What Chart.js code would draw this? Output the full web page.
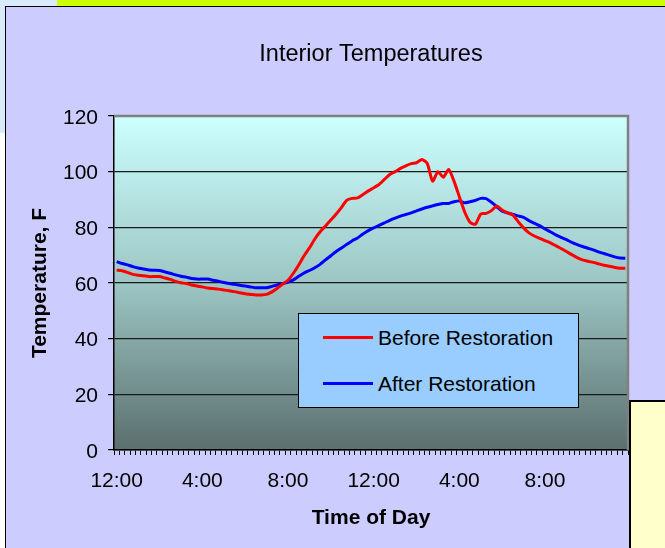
<!DOCTYPE html>
<html>
<head>
<meta charset="utf-8">
<title>Interior Temperatures</title>
<script src="https://cdn.jsdelivr.net/npm/chart.js@4.4.1/dist/chart.umd.min.js"></script>
<style>
  html, body { margin: 0; padding: 0; }
  body {
    width: 665px; height: 548px; position: relative; overflow: hidden;
    background: #ffffff; font-family: 'Liberation Sans', Arial, sans-serif;
  }
  .corner { position: absolute; left: 0; top: 0; width: 57px; height: 133px; background: #D9EBFB; }
  .band { position: absolute; left: 57px; top: 0; width: 608px; height: 6px; background: #CCFF00; }
  .frame {
    position: absolute; left: 5px; top: 6px; width: 700px; height: 600px;
    border: 1px solid #000; background: #CCCCFF;
  }
  #chartWrap { position: absolute; left: 6px; top: 7px; width: 659px; height: 541px; }
  .note {
    position: absolute; left: 629px; top: 400px; width: 60px; height: 200px;
    border: 2px solid #000; background: #FFFFCC;
  }
  #legend {
    position: absolute; left: 298px; top: 313px; width: 279px; height: 93px;
    border: 1px solid #000; background: #99CCFF;
  }
  #legend .item { position: absolute; left: 0; height: 24px; width: 279px; }
  #legend .swatch { position: absolute; left: 24px; top: 10px; width: 50px; height: 3px; }
  #legend .label {
    position: absolute; left: 79px; top: 0; line-height: 24px;
    font-size: 21px; color: #000; white-space: nowrap;
  }
</style>
</head>
<body>
<div class="corner"></div>
<div class="band"></div>
<div class="frame"></div>
<div id="chartWrap"><canvas id="tempChart" width="659" height="541"></canvas></div>
<div id="legend"></div>
<div class="note"></div>

<script>
// Time of day, every 15 minutes, 12-hour clock
const times = [];
for (let h = 0; h < 24; h++) {
  for (let m = 0; m < 60; m += 15) {
    const hr = h % 12 === 0 ? 12 : h % 12;
    times.push(hr + ':' + String(m).padStart(2, '0'));
  }
}
const labelEvery = 16; // one label every 4 hours

// Temperatures, F
const beforeTemps = [
  64.6, 64.4, 63.8, 63.1, 62.8, 62.6, 62.3, 62.3, 62.3, 61.8,
  61.3, 60.6, 60.1, 59.8, 59.3, 58.9, 58.6, 58.2, 58.0, 57.8,
  57.5, 57.2, 56.9, 56.5, 56.1, 55.9, 55.7, 55.7, 55.9, 56.8,
  58.1, 59.6, 61.0, 63.5, 66.5, 69.8, 72.6, 75.8, 78.4, 80.5,
  82.6, 84.8, 87.2, 89.8, 90.4, 90.6, 91.8, 93.1, 94.2, 95.4,
  97.2, 99.0, 100.0, 101.2, 102.1, 102.9, 103.2, 104.4, 103.0, 96.6,
  100.0, 98.0, 100.8, 96.6, 91.0, 85.5, 81.8, 81.1, 84.8, 85.0,
  86.0, 87.7, 86.2, 85.2, 84.4, 82.0, 79.8, 78.0, 76.9, 76.0,
  75.2, 74.4, 73.4, 72.4, 71.3, 70.2, 69.1, 68.3, 67.8, 67.4,
  66.9, 66.4, 66.0, 65.6, 65.3, 65.3
];
const afterTemps = [
  67.7, 67.0, 66.5, 65.9, 65.4, 65.0, 64.7, 64.6, 64.5, 64.0,
  63.5, 62.9, 62.4, 62.1, 61.6, 61.4, 61.4, 61.4, 61.0, 60.6,
  60.2, 59.8, 59.5, 59.2, 58.9, 58.6, 58.3, 58.3, 58.3, 58.8,
  59.3, 59.8, 60.3, 61.1, 62.4, 63.6, 64.5, 65.5, 66.7, 68.3,
  69.8, 71.3, 72.6, 73.9, 75.2, 76.2, 77.6, 78.8, 79.8, 80.7,
  81.6, 82.5, 83.3, 84.0, 84.6, 85.2, 85.9, 86.6, 87.2, 87.7,
  88.2, 88.6, 88.6, 89.2, 89.5, 88.8, 89.2, 89.7, 90.4, 90.3,
  89.0, 87.4, 85.8, 85.2, 84.6, 84.1, 83.6, 82.4, 81.5, 80.6,
  79.4, 78.4, 77.3, 76.4, 75.6, 74.6, 73.8, 73.1, 72.5, 71.9,
  71.2, 70.6, 70.0, 69.4, 69.0, 68.9
];

const seriesNames = ['Before Restoration', 'After Restoration'];
const seriesColors = ['#FF0000', '#0000FF'];

// Plot area: gradient fill and gray frame (top / right)
const plotAreaPlugin = {
  id: 'plotArea',
  beforeDraw(chart) {
    const { ctx, chartArea: a } = chart;
    const g = ctx.createLinearGradient(0, a.top, 0, a.bottom);
    g.addColorStop(0, '#CCFFFF');
    g.addColorStop(0.5, '#9CC6C4');
    g.addColorStop(1, '#5B6F6E');
    ctx.save();
    ctx.fillStyle = g;
    ctx.fillRect(a.left, a.top, a.right - a.left, a.bottom - a.top);
    ctx.restore();
  },
  beforeDatasetsDraw(chart) {
    const { ctx, chartArea: a } = chart;
    ctx.save();
    ctx.strokeStyle = '#808080';
    ctx.lineWidth = 2.5;
    ctx.beginPath();
    ctx.moveTo(a.left, a.top);
    ctx.lineTo(a.right, a.top);
    ctx.lineTo(a.right, a.bottom);
    ctx.stroke();
    ctx.restore();
  }
};

const chart = new Chart(document.getElementById('tempChart'), {
  type: 'line',
  data: {
    labels: times,
    datasets: [
      {
        label: seriesNames[0],
        data: beforeTemps,
        borderColor: seriesColors[0],
        backgroundColor: seriesColors[0],
        borderWidth: 3,
        pointRadius: 0,
        tension: 0.2
      },
      {
        label: seriesNames[1],
        data: afterTemps,
        borderColor: seriesColors[1],
        backgroundColor: seriesColors[1],
        borderWidth: 3,
        pointRadius: 0,
        tension: 0.2
      }
    ]
  },
  options: {
    responsive: false,
    animation: false,
    layout: {
      padding: { left: 0, right: 37, top: 0, bottom: 0 }
    },
    scales: {
      x: {
        offset: true,
        afterFit(scale) { scale.height = 98; },
        grid: {
          offset: true,
          drawOnChartArea: false,
          drawTicks: true,
          tickLength: 5,
          tickColor: '#000'
        },
        border: { display: true, color: '#000', width: 1.5 },
        ticks: {
          autoSkip: false,
          maxRotation: 0,
          padding: 14,
          color: '#000',
          font: { family: 'Liberation Sans', size: 21 },
          callback: (value, index) => index % labelEvery === 0 ? times[index] : ''
        },
        title: {
          display: true,
          text: 'Time of Day',
          color: '#000',
          font: { family: 'Liberation Sans', size: 21, weight: 'bold' },
          padding: { top: 0, bottom: 17 }
        }
      },
      y: {
        min: 0,
        max: 120,
        afterFit(scale) { scale.width = 108; },
        grid: {
          color: (c) => c.tick && c.tick.value === 120 ? 'rgba(0,0,0,0)' : '#1a1a1a',
          lineWidth: 1.2,
          tickLength: 6,
          tickColor: '#000'
        },
        border: { display: true, color: '#000', width: 1.5 },
        ticks: {
          stepSize: 20,
          padding: 10,
          labelOffset: 2,
          color: '#000',
          font: { family: 'Liberation Sans', size: 21 }
        },
        title: {
          display: true,
          text: 'Temperature, F',
          color: '#000',
          font: { family: 'Liberation Sans', size: 21, weight: 'bold' },
          padding: { top: 21.4, bottom: 0 }
        }
      }
    },
    plugins: {
      legend: { display: false },
      tooltip: { enabled: false },
      title: {
        display: true,
        fullSize: false,
        text: 'Interior Temperatures',
        color: '#000',
        font: { family: 'Liberation Sans', size: 23.5, weight: 'normal' },
        padding: { top: 33, bottom: 47.8 }
      }
    }
  },
  plugins: [plotAreaPlugin]
});

// Legend box built from the chart's datasets
const legendEl = document.getElementById('legend');
chart.data.datasets.forEach((ds, i) => {
  const item = document.createElement('div');
  item.className = 'item';
  item.style.top = (12 + i * 46) + 'px';
  const sw = document.createElement('div');
  sw.className = 'swatch';
  sw.style.background = ds.borderColor;
  const lb = document.createElement('div');
  lb.className = 'label';
  lb.textContent = ds.label;
  item.appendChild(sw);
  item.appendChild(lb);
  legendEl.appendChild(item);
});
</script>
</body>
</html>
